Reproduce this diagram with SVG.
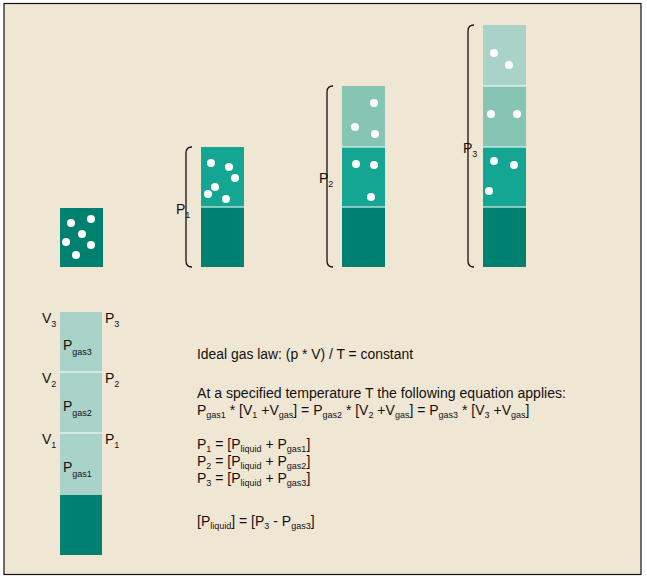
<svg xmlns="http://www.w3.org/2000/svg" width="647" height="578" viewBox="0 0 647 578">
<style>
.t{font-family:"Liberation Sans",Arial,sans-serif;font-size:14px;fill:#111}
.s{font-size:9px}
.L{font-family:"Liberation Sans",Arial,sans-serif;font-size:14px;fill:#111}
.d{fill:#fff}
.br{fill:none;stroke:#111;stroke-width:1.3}
.sep{stroke:#fff;stroke-width:1}
</style>
<rect x="0" y="0" width="647" height="578" fill="#fff"/>
<rect x="4" y="3.5" width="637" height="571" fill="#F0E6D4" stroke="#111" stroke-width="1.2"/>
<g id="box0">
<rect x="60" y="208" width="43" height="59" fill="#00806F"/>
<circle class="d" cx="71" cy="223" r="4"/><circle class="d" cx="91" cy="219" r="4"/><circle class="d" cx="82" cy="234" r="4"/><circle class="d" cx="66" cy="242" r="4"/><circle class="d" cx="91" cy="245" r="4"/><circle class="d" cx="76" cy="255" r="4"/>
</g>
<g id="col1">
<rect x="201" y="147" width="43" height="60" fill="#14A593"/>
<rect x="201" y="207" width="43" height="60" fill="#00806F"/>
<line class="sep" x1="201" y1="207" x2="244" y2="207"/>
<circle class="d" cx="211" cy="163" r="4"/><circle class="d" cx="229" cy="167" r="4"/><circle class="d" cx="235" cy="178" r="4"/><circle class="d" cx="215" cy="187" r="4"/><circle class="d" cx="208" cy="194" r="4"/><circle class="d" cx="226" cy="199" r="4"/>
<path class="br" d="M192,147 Q186,147 186,153 L186,261 Q186,267 192,267"/>
<text class="L" x="176" y="214">P<tspan class="s" dy="4">1</tspan></text>
</g>
<g id="col2">
<rect x="342" y="86" width="43" height="61" fill="#86C4B4"/>
<rect x="342" y="147" width="43" height="60" fill="#14A593"/>
<rect x="342" y="207" width="43" height="60" fill="#00806F"/>
<line class="sep" x1="342" y1="147" x2="385" y2="147"/><line class="sep" x1="342" y1="207" x2="385" y2="207"/>
<circle class="d" cx="374" cy="103" r="4"/><circle class="d" cx="355" cy="127" r="4"/><circle class="d" cx="375" cy="134" r="4"/><circle class="d" cx="356" cy="164" r="4"/><circle class="d" cx="374" cy="165" r="4"/><circle class="d" cx="371" cy="197" r="4"/>
<path class="br" d="M333,86 Q327,86 327,92 L327,261 Q327,267 333,267"/>
<text class="L" x="319" y="183">P<tspan class="s" dy="4">2</tspan></text>
</g>
<g id="col3">
<rect x="483" y="25" width="43" height="61" fill="#A9D3C9"/>
<rect x="483" y="86" width="43" height="61" fill="#86C4B4"/>
<rect x="483" y="147" width="43" height="60" fill="#14A593"/>
<rect x="483" y="207" width="43" height="60" fill="#00806F"/>
<line class="sep" x1="483" y1="86" x2="526" y2="86"/><line class="sep" x1="483" y1="147" x2="526" y2="147"/><line class="sep" x1="483" y1="207" x2="526" y2="207"/>
<circle class="d" cx="494" cy="53" r="4"/><circle class="d" cx="509" cy="65" r="4"/><circle class="d" cx="491" cy="114" r="4"/><circle class="d" cx="517" cy="114" r="4"/><circle class="d" cx="494" cy="161" r="4"/><circle class="d" cx="514" cy="165" r="4"/><circle class="d" cx="489" cy="191" r="4"/>
<path class="br" d="M474,25 Q468,25 468,31 L468,261 Q468,267 474,267"/>
<text class="L" x="463" y="153">P<tspan class="s" dy="4">3</tspan></text>
</g>
<g id="colB">
<rect x="60" y="312" width="42" height="183" fill="#A9D3C9"/>
<rect x="60" y="495" width="42" height="60" fill="#00806F"/>
<line class="sep" x1="60" y1="372" x2="102" y2="372"/><line class="sep" x1="60" y1="433" x2="102" y2="433"/>
<text class="L" x="42" y="323">V<tspan class="s" dy="4">3</tspan></text>
<text class="L" x="42" y="383">V<tspan class="s" dy="4">2</tspan></text>
<text class="L" x="42" y="444">V<tspan class="s" dy="4">1</tspan></text>
<text class="L" x="105" y="323">P<tspan class="s" dy="4">3</tspan></text>
<text class="L" x="105" y="383">P<tspan class="s" dy="4">2</tspan></text>
<text class="L" x="105" y="444">P<tspan class="s" dy="4">1</tspan></text>
<text class="L" x="63" y="350">P<tspan class="s" dy="5">gas3</tspan></text>
<text class="L" x="63" y="411">P<tspan class="s" dy="5">gas2</tspan></text>
<text class="L" x="63" y="472">P<tspan class="s" dy="5">gas1</tspan></text>
</g>
<g id="text">
<text class="t" x="197" y="359" textLength="216" lengthAdjust="spacingAndGlyphs">Ideal gas law: (p * V) / T = constant</text>
<text class="t" x="197" y="398" textLength="369" lengthAdjust="spacingAndGlyphs">At a specified temperature T the following equation applies:</text>
<text class="t" x="197" y="415">P<tspan class="s" dy="3">gas1</tspan><tspan dy="-3"> * [V</tspan><tspan class="s" dy="3">1</tspan><tspan dy="-3"> +V</tspan><tspan class="s" dy="3">gas</tspan><tspan dy="-3">] = P</tspan><tspan class="s" dy="3">gas2</tspan><tspan dy="-3"> * [V</tspan><tspan class="s" dy="3">2</tspan><tspan dy="-3"> +V</tspan><tspan class="s" dy="3">gas</tspan><tspan dy="-3">] = P</tspan><tspan class="s" dy="3">gas3</tspan><tspan dy="-3"> * [V</tspan><tspan class="s" dy="3">3</tspan><tspan dy="-3"> +V</tspan><tspan class="s" dy="3">gas</tspan><tspan dy="-3">]</tspan></text>
<text class="t" x="197" y="449">P<tspan class="s" dy="3">1</tspan><tspan dy="-3"> = [P</tspan><tspan class="s" dy="3">liquid</tspan><tspan dy="-3"> + P</tspan><tspan class="s" dy="3">gas1</tspan><tspan dy="-3">]</tspan></text>
<text class="t" x="197" y="466">P<tspan class="s" dy="3">2</tspan><tspan dy="-3"> = [P</tspan><tspan class="s" dy="3">liquid</tspan><tspan dy="-3"> + P</tspan><tspan class="s" dy="3">gas2</tspan><tspan dy="-3">]</tspan></text>
<text class="t" x="197" y="483">P<tspan class="s" dy="3">3</tspan><tspan dy="-3"> = [P</tspan><tspan class="s" dy="3">liquid</tspan><tspan dy="-3"> + P</tspan><tspan class="s" dy="3">gas3</tspan><tspan dy="-3">]</tspan></text>
<text class="t" x="197" y="526">[P<tspan class="s" dy="3">liquid</tspan><tspan dy="-3">] = [P</tspan><tspan class="s" dy="3">3</tspan><tspan dy="-3"> - P</tspan><tspan class="s" dy="3">gas3</tspan><tspan dy="-3">]</tspan></text>
</g>
</svg>
